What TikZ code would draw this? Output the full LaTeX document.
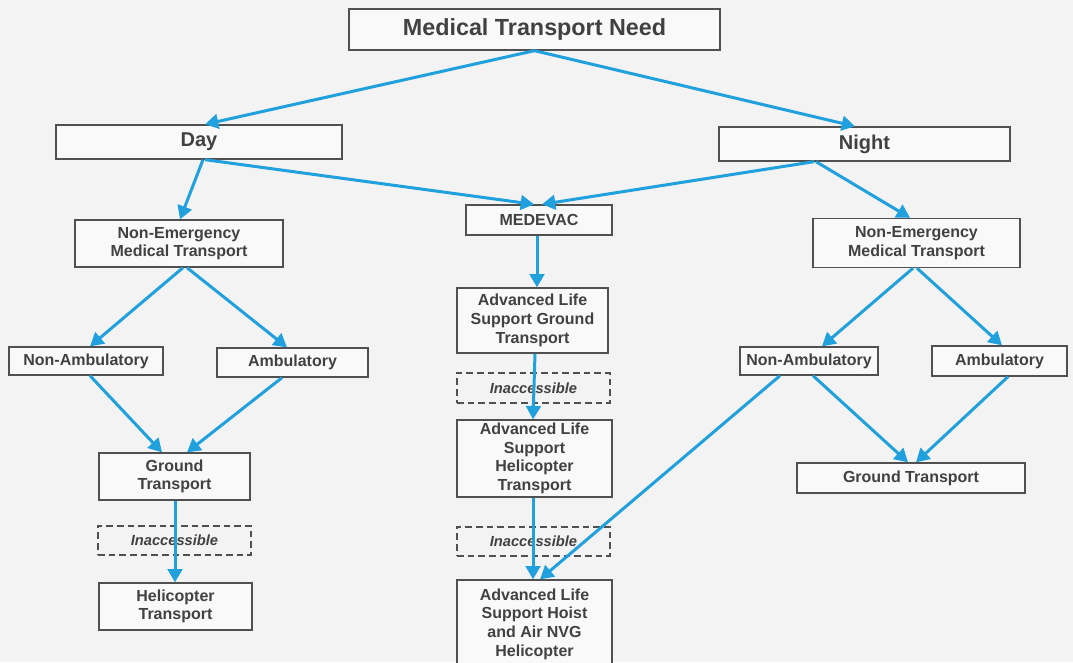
\documentclass[tikz,border=0pt]{standalone}
\usepackage{fontspec}
\setmainfont{Liberation Sans}
\usetikzlibrary{arrows.meta,calc}
\definecolor{arrowblue}{RGB}{32,160,220}
\definecolor{boxline}{RGB}{80,80,80}
\definecolor{txt}{RGB}{65,65,65}
\definecolor{bgc}{RGB}{243,243,243}
\definecolor{boxfill}{RGB}{249,249,249}
\begin{document}
\begin{tikzpicture}[x=0.75pt,y=-0.75pt,
  sz/.style 2 args={minimum width=#1*0.75pt,minimum height=#2*0.75pt},
  box/.style={draw=boxline,line width=1pt,fill=boxfill,inner sep=0pt,align=center,text=txt,font=\bfseries\fontsize{12}{14}\selectfont},
  bigbox/.style={box,font=\bfseries\fontsize{15}{17}\selectfont},
  titlebox/.style={box,font=\bfseries\fontsize{17.5}{20}\selectfont},
  dbox/.style={draw=boxline,line width=1pt,dash pattern=on 5pt off 3pt,inner sep=0pt,align=center,text=txt,font=\bfseries\itshape\fontsize{11}{13}\selectfont},
  conn/.style={draw=arrowblue,line width=2.25pt,-{Triangle[length=10pt,width=11pt]}}]
\useasboundingbox (0,0) rectangle (1073,662);
\fill[bgc] (0,0) rectangle (1073,662);

% nodes
\node[titlebox,sz={371}{41}] (top) at (534.5,29.5) {Medical Transport Need};
\node[bigbox,sz={286}{34}] (day) at (199,142) {Day};
\node[bigbox,sz={291}{34}] (night) at (864.5,144) {Night};
\node[box,sz={146}{30}] (medevac) at (539,220) {MEDEVAC};
\node[box,sz={208}{47}] (nemtL) at (179,243.5) {Non-Emergency\\Medical Transport};
\node[box,sz={207}{49}] (nemtR) at (916.5,243) {Non-Emergency\\Medical Transport};
\node[box,sz={154}{28}] (nonambL) at (86,361) {Non-Ambulatory};
\node[box,sz={151}{29}] (ambL) at (292.5,362.5) {Ambulatory};
\node[box,sz={151}{47}] (groundL) at (174.5,476.5) {Ground\\Transport};
\node[dbox,sz={153}{29}] (inaccL) at (174.5,540.5) {Inaccessible};
\node[box,sz={153}{47}] (heliL) at (175.5,606.5) {Helicopter\\Transport};
\node[box,sz={151}{65}] (alsG) at (532.5,320.5) {Advanced Life\\Support Ground\\Transport};
\node[dbox,sz={153}{30}] (inaccA) at (533.5,388) {Inaccessible};
\node[box,sz={155}{77}] (alsH) at (534.5,458.5) {Advanced Life\\Support\\Helicopter\\Transport};
\node[dbox,sz={153}{29}] (inaccB) at (533.5,541.5) {Inaccessible};
\node[box,sz={155}{88}] (alsHoist) at (534.5,624) {Advanced Life\\Support Hoist\\and Air NVG\\Helicopter};
\node[box,sz={138}{28}] (nonambR) at (809,361) {Non-Ambulatory};
\node[box,sz={135}{30}] (ambR) at (999.5,361) {Ambulatory};
\node[box,sz={228}{30}] (groundR) at (911,478) {Ground Transport};

% connectors
\draw[conn] (top.south) -- ($(day.north)+(6,0)$);
\draw[conn] (top.south) -- ($(night.north)+(-9.5,0)$);
\draw[conn] ($(day.south)+(4,0)$) -- ($(nemtL.north)+(1,0)$);
\draw[conn] ($(day.south)+(6,0)$) -- ($(medevac.north)+(-5,0)$);
\draw[conn] ($(night.south)+(-50.5,0)$) -- ($(medevac.north)+(3,0)$);
\draw[conn] ($(night.south)+(-48.5,0)$) -- ($(nemtR.north)+(-6.5,0)$);
\draw[conn] ($(nemtL.south)+(4,0)$) -- ($(nonambL.north)+(4,0)$);
\draw[conn] ($(nemtL.south)+(8,0)$) -- ($(ambL.north)+(-5.5,0)$);
\draw[conn] ($(nonambL.south)+(4,0)$) -- ($(groundL.north)+(-12.5,0)$);
\draw[conn] ($(ambL.south)+(-10.5,0)$) -- ($(groundL.north)+(12.5,0)$);
\draw[conn] ($(groundL.south)+(0.5,0)$) -- ($(heliL.north)+(-0.5,0)$);
\draw[conn] ($(medevac.south)+(-2,0)$) -- ($(alsG.north)+(4.5,0)$);
\draw[conn] ($(alsG.south)+(2.5,0)$) -- ($(alsH.north)+(-1.5,0)$);
\draw[conn] ($(alsH.south)+(-1.5,0)$) -- ($(alsHoist.north)+(-1.5,0)$);
\draw[conn] ($(nemtR.south)+(-3.5,0)$) -- ($(nonambR.north)+(13,0)$);
\draw[conn] ($(nemtR.south)+(0.5,0)$) -- ($(ambR.north)+(2.5,0)$);
\draw[conn] ($(nonambR.south)+(-29,0)$) -- ($(alsHoist.north)+(5.5,0)$);
\draw[conn] ($(nonambR.south)+(4,0)$) -- ($(groundR.north)+(-3,0)$);
\draw[conn] ($(ambR.south)+(8.5,0)$) -- ($(groundR.north)+(5,0)$);
\end{tikzpicture}
\end{document}
